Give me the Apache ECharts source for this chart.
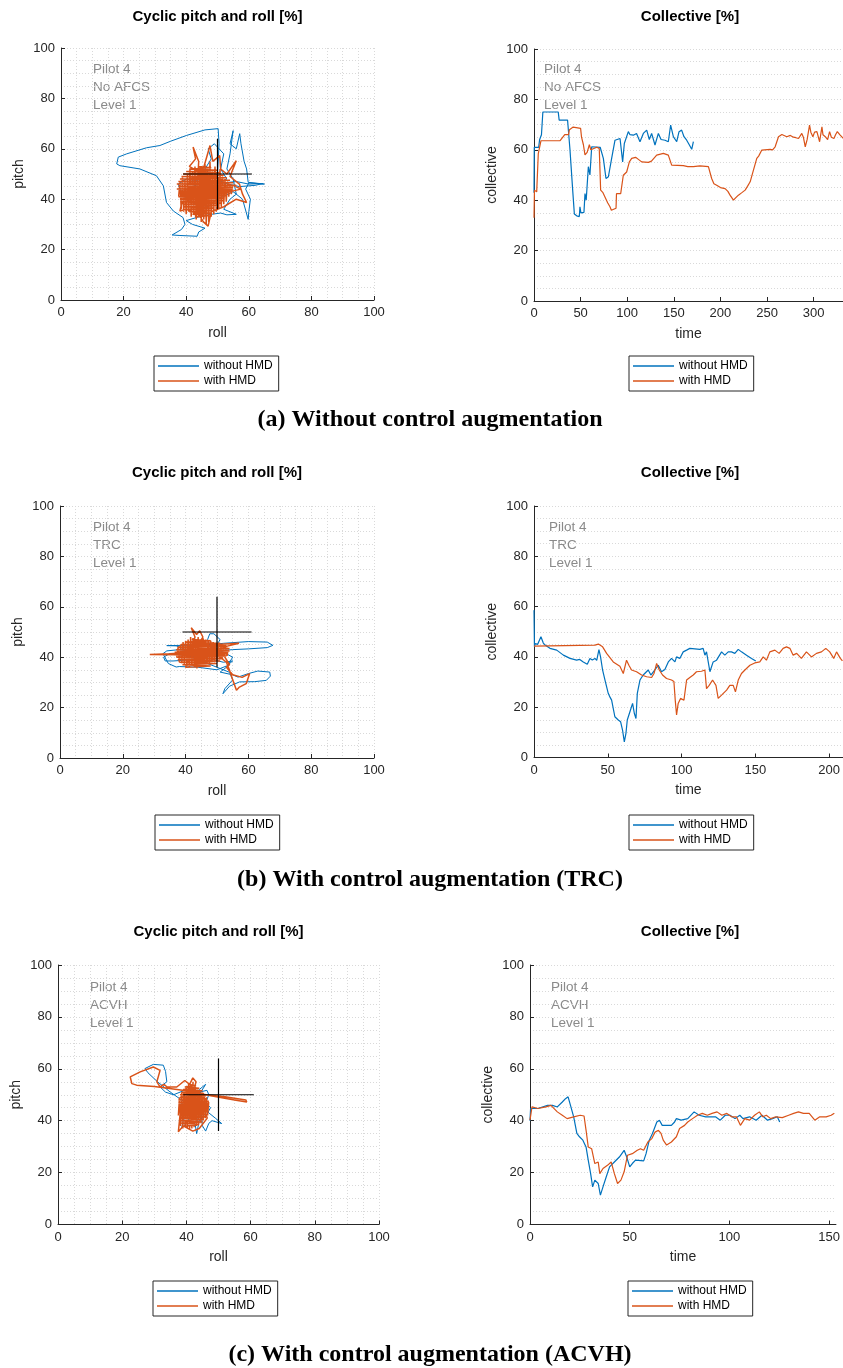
<!DOCTYPE html>
<html>
<head>
<meta charset="utf-8">
<script src="https://cdn.jsdelivr.net/npm/echarts@6/dist/echarts.min.js"></script>
<style>
  html, body { margin: 0; padding: 0; background: #fff; }
  #chart { width: 843px; height: 1368px; }
</style>
</head>
<body>
<div id="chart"></div>
<script>
// ---- series names / labels ----
const seriesNames = ['without HMD', 'with HMD'];
const annotA = ['Pilot 4', 'No AFCS', 'Level 1'];
const annotB = ['Pilot 4', 'TRC', 'Level 1'];
const annotC = ['Pilot 4', 'ACVH', 'Level 1'];
const captions = ['(a) Without control augmentation', '(b) With control augmentation (TRC)', '(c) With control augmentation (ACVH)'];
const timeTicksA = [0, 50, 100, 150, 200, 250, 300];
const timeTicksB = [0, 50, 100, 150, 200];
const timeTicksC = [0, 50, 100, 150];

// ---- collective vs time: [time, collective %] ----
const collA_noHmd = [[0,43],[0.3,61],[5,61],[6,64],[8,66],[9.5,75],[26,75],[27,71.8],[36,71.8],[38.6,60],[41.5,44],[43.3,34.5],[45.8,33.8],[48.6,33.5],[49.3,37.4],[50.3,35],[53.6,35.2],[54.7,42.6],[56,40],[58.3,53.3],[60,50],[61.9,61.2],[71,61],[74.4,56.6],[77.2,48.6],[79.8,49.3],[83.3,56.6],[86.9,63.8],[92.3,64.5],[95.1,55.2],[96.9,62.5],[101.2,67.2],[103,66],[106.6,65.8],[110,66.5],[113.7,63.2],[117.3,66.5],[120.9,67.8],[123.7,64.1],[126.2,66.5],[129.8,61.9],[133.4,66.5],[136.3,64.1],[140.6,63.8],[144.1,63.2],[146.6,69.8],[149.5,65.2],[153.1,63.2],[155.6,67.2],[158.4,67.8],[160.9,65.2],[163.8,63.8],[166.7,61.9],[169.2,60.2],[171,63.2]];
const collA_hmd = [[0,33],[0.5,44],[2.9,43.3],[4.6,58.5],[7.5,63.6],[28,63.6],[29,64],[33,66],[37,66],[38,68],[42,69],[44,68.5],[50,68.5],[51,65],[53,62],[54.7,58],[57,59],[59.4,62],[61,60],[67.4,61],[70,60.5],[71.5,44],[74,43],[76,42.6],[79,39],[81.5,37.4],[83,36],[85.1,35.8],[88,36.8],[88.5,42.6],[93,42.6],[95.8,49.9],[99.4,51.2],[102.3,55.2],[104.8,56.6],[109,57],[112,56.2],[115.5,55.2],[122.7,55],[126,55.5],[131.6,57.9],[138.8,58.6],[144.1,57.9],[147.7,53.9],[160.2,53.7],[165,53.3],[171,53.3],[173,54],[178.1,53.6],[187.1,53.3],[190.6,48.6],[193,46.5],[196,45.9],[200,45],[205,44.6],[208,43.5],[210.3,42],[214,40],[216,40.8],[219.3,42],[223,43],[226.5,44],[229,45.5],[231.9,47.3],[235.5,52],[239,56.6],[241,57.5],[244.4,59.9],[253.4,60.2],[256,60],[258.7,61.2],[262.3,65.2],[265.9,66.1],[271.2,65.2],[275,65.7],[278.4,65],[281,64.8],[283.8,64.5],[287.3,66.5],[289,65],[291,61.2],[293,64],[295.6,69.8],[297,67],[299.2,65.2],[301,67],[303.5,67.2],[306.4,63.2],[308.9,69.1],[310,66],[312.5,65.2],[315,64],[317.1,67.2],[319,65],[321.8,64.5],[323.5,66],[325.4,67.2],[328,66],[331.8,64.5]];

const collB_noHmd = [[0,58.6],[0.3,44],[0.8,45.3],[2.5,45],[4.7,48],[6.3,45.5],[8,44.5],[10.8,43.4],[15.4,42.7],[19.9,40.7],[24.4,39.4],[28.9,38.7],[31,39],[33.4,38],[36.1,37.1],[37.9,39.4],[39.5,38.8],[41.3,39.4],[42.5,38.6],[44,42.9],[45.1,40],[46.5,34.7],[48.1,30.8],[50.3,25.5],[51.5,24],[52.6,22.8],[54.8,16.2],[57.1,14.9],[58.7,14.2],[60,10.9],[61.2,6.2],[62.3,9.6],[63.2,14.9],[65,18.2],[66.8,21.5],[68,17.5],[69.1,15.5],[70,25.5],[71.8,30.8],[74,32.8],[77.4,34.8],[79.2,32.8],[81.9,34.8],[84.2,36.7],[86.4,34.1],[88.7,35],[91,38],[93.2,39.4],[95.5,38],[96.6,40],[98.8,39.4],[101.1,42],[103.4,42.7],[105.6,43.4],[109,43.2],[112.4,43],[114.6,43.4],[115.8,40.7],[116.9,42],[119.2,34.1],[121.4,38],[123.7,38.7],[127.1,42],[129.3,40.7],[131.6,42],[133.8,42],[136.1,41.4],[138.4,43],[140.6,42],[144,40.7],[147.4,39.4],[150.3,38.4]];
const collB_hmd = [[0,44.3],[1,44.7],[41.3,44.7],[43.6,45.1],[46.5,44],[49.2,41.4],[53.7,38],[58.2,36.3],[60.5,33.4],[62.7,38.7],[64.3,36.7],[66.1,34.8],[69.5,34.1],[72.9,32.8],[76.3,32.1],[79.7,31.8],[81.3,33.4],[83.1,37.4],[84.9,34.8],[87.1,32.8],[89.8,31.4],[93.2,30.8],[94.8,30.2],[95.7,22.8],[96.6,16.9],[97.7,21.5],[99.3,23.5],[101.6,22.8],[103.4,30.8],[105.6,31.8],[107.9,32.8],[110.1,34.1],[113.5,34.3],[115.8,34.8],[116.9,27.4],[118.7,28.7],[121,30.8],[123.3,28.7],[124.8,23.5],[127.1,24.8],[130.5,26.8],[132.7,28.7],[135,28.7],[136.5,26.1],[138.4,30.8],[140.6,33.4],[142.9,34.8],[146.3,36.7],[149.6,37.6],[153,38],[155.3,40],[157.5,38.7],[159.8,42],[163.2,42.7],[166.1,41.4],[168.8,43.4],[171.1,44],[173.4,43.4],[175.6,40.7],[178,41.4],[181.2,39.4],[184.6,42],[188,40],[191.4,41.4],[194.8,42],[197.7,43.4],[200.4,42],[203.1,39.4],[205,42],[207.6,39.4],[209,38.4]];

const collC_noHmd = [[0,40],[0.3,44.7],[3.9,44.7],[8.8,45.9],[11.3,45.9],[13.7,45.3],[16.2,47.2],[17.8,48.5],[19.1,49.2],[20.3,45.9],[21.9,41.5],[23.5,35.1],[24.8,33.8],[26.5,32.5],[28.1,29.9],[29.2,24.8],[30.4,19.6],[31.4,14.5],[32.5,17.1],[34.2,15.8],[35.3,11.3],[36.6,14.5],[38.2,18.3],[39.9,22.2],[42.3,24.1],[44.8,26],[47.2,28.6],[48.5,26],[50,22.2],[51.3,23.5],[52.9,24.8],[57,24.5],[58.2,27.3],[59.8,32.5],[61.4,35.1],[63.6,39.5],[64.9,40.2],[66.3,38.2],[70.9,38.2],[72.5,39.5],[73.4,40.8],[75.8,40.2],[79.1,40.8],[82.3,43.4],[84.8,42.1],[88.1,41.5],[90.5,41.5],[93,41.5],[95.4,40.2],[97.9,42.1],[100.3,42.1],[102.8,40.8],[105.2,42.1],[106.8,40.8],[110.1,41.5],[113.4,40.2],[116.3,42.1],[119.1,40.2],[121.6,40.8],[124,41.5],[125.2,39.5]];
const collC_hmd = [[0,40.2],[1,45.3],[4,44.7],[8,45.3],[10.5,45.9],[13.7,43.4],[16.2,42.1],[18.6,40.8],[21.9,41.5],[25.2,42.1],[27.1,41.8],[28.1,36.4],[29.2,29.9],[30.9,29.2],[32.5,23.5],[34.2,24.1],[35,19.6],[36.6,21.6],[39,22.9],[40.7,24.1],[42.3,19.6],[43.9,15.8],[45.6,17.1],[47.2,20.3],[48.9,26.7],[51.3,27.3],[53.8,28.6],[55.4,29.2],[57,28.6],[59.1,31.8],[61.1,33.1],[62.7,35.6],[64.4,36.3],[65.7,35.1],[66.8,32.5],[68.5,30.6],[70.9,31.8],[73.4,33.8],[75,37],[77.5,38.2],[79.1,39.5],[81.5,40.8],[84,42.1],[86.4,42.8],[88.9,42.1],[91.3,42.8],[93.8,43.4],[96.2,42.1],[98.7,42.8],[101.1,41.5],[103.5,41.5],[105.5,38.2],[107.7,40.8],[110.1,40.2],[112.6,42.1],[115,43.4],[116.7,41.5],[118.5,42.1],[120.7,40.8],[123.2,41.5],[126.5,41.2],[129.7,42.1],[132.2,42.8],[134.6,43.4],[137.1,42.8],[140,42.8],[142.8,40.2],[145.3,41.5],[148.5,41.5],[151,42.1],[152.6,42.9]];

// ---- cyclic stick traces: [roll %, pitch %] ----
const cycA_noHmd = [[40,44],[44,46],[48,49],[50,50],[50.5,62],[50.2,68],[46,67.5],[40.1,65.3],[35,63],[31.6,61.3],[27.3,60.4],[21,58],[18.3,56.7],[17.8,54],[18.8,53.3],[25.2,52],[30.5,49.3],[32.7,45.3],[33.7,38.7],[35.9,35.3],[39,32.7],[39.6,30],[38.5,28],[35.5,25.8],[38,25.6],[43.5,25.3],[44,27],[46,28.5],[42,30],[40,31.5],[44,33],[48,34],[51,34.5],[53,33.8],[56,34],[52,36],[54,40],[56,42],[55,48],[53,52],[54,58],[55,67.2],[54,62],[56,60],[57.1,66],[57.5,62],[58.5,55],[59.3,52],[59.8,46.7],[65,46],[60,46.5],[59,44],[60.5,40],[60,35],[59.8,32],[58,40],[55,43],[50,40],[47,37],[43,38],[40,40],[38,44],[37.5,46],[40,48],[45,47],[52,46.5],[56,47],[60,46],[64.5,46.2],[62,45.5],[57,45],[50,47],[46,52],[48,56],[47,60],[49,62],[52,58],[51,52],[53,48],[48,45],[44,42],[40,42],[38,43.5]];
const cycA_hmd = [
  [37.6,41],[38,47],[38.4,36],[38.8,49],[39.2,35],[39.6,48],[40,34],[40.4,50],[40.8,35],[41.2,52],[41.6,33],[42,51],[42.4,34],[42.8,53],[43.2,32],[43.6,50],[44,33],[44.4,52],[44.8,31],[45.2,51],[45.6,32],[46,54],[46.4,30],[46.8,52],[47.2,31],[47.6,55],[48,33],[48.4,51],[48.8,34],[49.2,53],[49.6,35],[50,50],[50.4,36],[50.8,52],[51.2,37],[51.6,49],[52,38],[52.4,48],[52.8,39],[53.2,47],[53.6,41],[54,46],[54.4,42],[54.8,45],
  [44,53],[48,52.5],[41,52],[50,51.5],[40,51],[51,50.5],[39,50],[52,49.5],[38.5,49],[53,48.5],[38,48],[54,47.5],[37.5,47],[55,46.5],[37,46],[56,45.5],[37.5,45],[55,44.5],[37,44],[54,43.5],[37.5,43],[53,42.5],[38,42],[53,41.5],[37.5,41],[52,40.5],[38,40],[52,39.5],[38.5,39],[51,38.5],[39,38],[50,37.5],[39.5,37],[49,36.5],[40,36],[48,35.5],[41,35],[48,34.5],[42,34],[47,33.5],[43,33],
  [44,55],[42.2,60.7],[43,56],[41,53],[45,50],[47.6,61.3],[48.5,55],[50.7,57.3],[51,52],[53,50],[56,55.3],[54,49],[57,46],[58,42],[59.3,38.7],[56,40],[52,37],[48,35],[47,29.3],[45.5,31],[44,34],[40,36],[38,35.3],[38.5,38],[42,41],[46,44],[50,45],[55,45.5],[57.5,44],[54,43],[49,42],[44,40],[40,44]];

const cycB_noHmd = [[42,42],[37,44.5],[34,44.6],[46,44.8],[52,45.5],[60,46.2],[66,46],[67.8,44.7],[66,43.8],[60,43.3],[55,43],[50,42.5],[47,41],[42,39],[36,38.5],[33.5,38.5],[33,40],[35,41.5],[41,40.5],[46,40],[52,38],[55,38.5],[53,36.5],[50,35],[44,36],[38,36.3],[37,36.1],[34.5,37.5],[33.9,38.1],[32.8,41.4],[34,42.5],[38,43],[45,42],[49,43],[51,47],[49,49.3],[47.7,49.3],[47,47],[48,44],[52,42],[55,40],[53,36],[51,34.1],[55,33],[56.7,32.1],[60,33.5],[63,34.5],[66.8,34.1],[67,32.5],[65.7,30.8],[62,30.3],[57.2,30.2],[54,28.5],[51.9,25.5],[52.5,27.5],[55,31],[54,34],[50,36],[46,38],[42,40],[39,42],[44,43]];
const cycB_hmd = [
  [37.2,40],[37.6,44],[38,38],[38.4,45],[38.8,37.5],[39.2,46],[39.6,37],[40,46.5],[40.4,36.5],[40.8,47],[41.2,36],[41.6,48],[42,36.5],[42.4,47.5],[42.8,36],[43.2,47],[43.6,35.5],[44,48],[44.4,36],[44.8,47],[45.2,36.5],[45.6,47.5],[46,37],[46.4,47],[46.8,37],[47.2,46.5],[47.6,37.5],[48,46.5],[48.4,38],[48.8,46],[49.2,38],[49.6,45.5],[50,38.5],[50.4,45.5],[50.8,39],[51.2,45],[51.6,39.5],[52,44.5],[52.4,40],[52.8,44],[53.2,40.5],[53.6,43.5],
  [42,47],[48,46.5],[40,46],[51,45.5],[38.5,45],[53,44.5],[37.5,44],[54,43.5],[37,43],[54,42.5],[36.5,42],[53,41.5],[36,41],[53,40.5],[37,40],[52,39.5],[37.5,39],[51,38.5],[38,38],[50,37.5],[39,37],[48,36.5],[40,36],
  [43,48],[41.8,51.7],[43.5,49],[44.5,50.5],[45.5,48],[44,45],[38,41],[28.6,41.1],[35,41.4],[42,42],[50,41],[53,38],[54,34.8],[55,31],[56.2,26.9],[57,28],[59.3,29.5],[60.4,33.5],[58,32],[55,33],[53,36],[54,37],[52,41],[47,42],[50,45],[57,45.5],[52,44]];

const cycC_noHmd = [[42,46],[38.6,47.9],[35,51],[31,55],[28,58.5],[27.1,60.1],[29.7,61.7],[32.8,61.4],[33.5,59],[33.9,55],[31.8,53],[33.5,51],[36,50],[40,52],[44,51],[46.4,51.7],[47,50],[46,47],[47.5,45],[46.5,42.7],[44,40],[43.2,35],[42.8,38],[44.5,44],[45,38],[46,36],[47,39],[48,40],[51,38.9],[49,41],[47,43],[44,47],[41,44],[39,40],[38.5,37],[40,39],[41.5,42],[43,45],[45,48],[44,52],[46,54],[44.5,51],[41,49],[38,46]];
const cycC_hmd = [
  [37.5,42],[37.85,49],[38.2,38],[38.55,51],[38.9,37],[39.25,52],[39.6,38],[39.95,53],[40.3,37],[40.65,54],[41,36.5],[41.35,53],[41.7,37],[42.05,55],[42.4,37.5],[42.75,54],[43.1,38],[43.45,52],[43.8,38.5],[44.15,51.5],[44.5,39],[44.85,51],[45.2,40],[45.55,50],[45.9,41],[46.25,49],[46.6,42],[46.95,47],
  [41,54],[43,53.5],[39.5,53],[44,52.5],[39,52],[45,51.5],[38.5,51],[45.5,50.5],[38,50],[46,49.5],[38,49],[46.5,48.5],[37.5,48],[47,47.5],[37.5,47],[47,46.5],[37.5,46],[47,45.5],[37.5,45],[46.5,44.5],[37.5,44],[46.5,43.5],[38,43],[46,42.5],[38,42],[46,41.5],[38,41],[45.5,40.5],[38.5,40],[45,39.5],[38.5,39],[44,38.5],[39.5,38],
  [43,55],[42,56.5],[41,54],[39.5,55.5],[37,53],[34,53],[33,54],[31.8,53],[30.8,55],[31.8,59.4],[29.7,60.7],[25.6,58.8],[22.5,56.9],[23,54.3],[24.5,53.7],[30,53.2],[40,51.5],[48,49.5],[55,48],[58.8,47.2],[58.5,48],[52,49.2],[46,50],[41,47],[38,42],[37.5,35.7],[39,38],[42,36],[44,37],[46.5,41],[45,46],[42,44],[40,43]];

// trim reference cross (roll 50 / pitch 50)
const crossH = [[39,50],[61,50]];
const crossV = [[50,36],[50,64]];

// ---- styling ----
const BLUE = '#0072BD', ORANGE = '#D95319';
const FONT = 'Liberation Sans';
const AX = '#262626';
const GRIDC = '#d9d9d9';

const panels = [
  { left: 61, top: 48, width: 313, height: 252, cyc: true },
  { left: 534, top: 49, width: 309, height: 252, xmax: 331.5, ticks: timeTicksA },
  { left: 60, top: 506, width: 314, height: 252, cyc: true },
  { left: 534, top: 506, width: 309, height: 251.5, xmax: 209.2, ticks: timeTicksB },
  { left: 58, top: 965, width: 321, height: 259.5, cyc: true },
  { left: 530, top: 965, width: 313, height: 259.5, xmax: 153.4, ticks: timeTicksC }
];

const grids = [], xAxes = [], yAxes = [];
const dotted = { color: GRIDC, width: 1, type: [1, 2] };
panels.forEach((p) => {
  grids.push({ left: p.left, top: p.top, width: p.width, height: p.height, containLabel: false });
  const gi = grids.length - 1;
  const step = p.cyc ? 20 : 50;
  const xa = {
    gridIndex: gi, type: 'value', min: 0, max: p.cyc ? 100 : p.xmax, interval: step,
    name: p.cyc ? 'roll' : 'time', nameLocation: 'middle', nameGap: 26,
    nameTextStyle: { fontFamily: FONT, fontSize: 14, color: AX },
    axisLine: { show: true, lineStyle: { color: AX, width: 1 } },
    axisTick: { show: true, inside: true, length: 4, lineStyle: { color: AX } },
    axisLabel: { fontFamily: FONT, fontSize: 13, color: AX, margin: 6,
      formatter: (v) => (Math.abs(v % step) < 1e-6 ? String(v) : '') },
    splitLine: { show: !!p.cyc, lineStyle: dotted },
    minorTick: { show: false, splitNumber: 4 },
    minorSplitLine: { show: !!p.cyc, lineStyle: dotted }
  };
  if (p.ticks) {
    xa.axisTick.customValues = p.ticks;
    xa.axisLabel.customValues = p.ticks;
  }
  xAxes.push(xa);
  yAxes.push({
    gridIndex: gi, type: 'value', min: 0, max: 100, interval: 20,
    name: p.cyc ? 'pitch' : 'collective', nameLocation: 'middle', nameGap: 35, nameRotate: 90,
    nameTextStyle: { fontFamily: FONT, fontSize: 14, color: AX },
    axisLine: { show: true, lineStyle: { color: AX, width: 1 } },
    axisTick: { show: true, inside: true, length: 4, lineStyle: { color: AX } },
    axisLabel: { fontFamily: FONT, fontSize: 13, color: AX, margin: 6 },
    splitLine: { show: true, lineStyle: dotted },
    minorTick: { show: false, splitNumber: 4 },
    minorSplitLine: { show: true, lineStyle: dotted }
  });
});

function line(name, data, gi, color, width) {
  return {
    name: name, type: 'line', data: data, xAxisIndex: gi, yAxisIndex: gi,
    showSymbol: false, symbol: 'none', silent: true, animation: false, clip: true,
    lineStyle: { color: color, width: width }, itemStyle: { color: color }
  };
}

const series = [];
const cycSets = [[cycA_noHmd, cycA_hmd], [cycB_noHmd, cycB_hmd], [cycC_noHmd, cycC_hmd]];
const collSets = [[collA_noHmd, collA_hmd], [collB_noHmd, collB_hmd], [collC_noHmd, collC_hmd]];
for (let r = 0; r < 3; r++) {
  const gc = r * 2, gt = r * 2 + 1;
  series.push(line(seriesNames[0], cycSets[r][0], gc, BLUE, 1));
  series.push(line(seriesNames[1], cycSets[r][1], gc, ORANGE, 1.5));
  series.push(line('trim', crossH, gc, '#000', 1.2));
  series.push(line('trim', crossV, gc, '#000', 1.2));
  series.push(line(seriesNames[0], collSets[r][0], gt, BLUE, 1.2));
  series.push(line(seriesNames[1], collSets[r][1], gt, ORANGE, 1.2));
}

// legends under every panel
const legendPos = [[154, 356], [629, 356], [155, 815], [629, 815], [153, 1281], [628, 1281]];
const legends = legendPos.map(([l, t]) => ({
  data: seriesNames, left: l, top: t, orient: 'vertical', selectedMode: false,
  icon: 'rect', itemWidth: 41, itemHeight: 1.5, itemGap: 3,
  padding: [4, 6, 4, 4], backgroundColor: '#fff', borderColor: AX, borderWidth: 1,
  textStyle: { fontFamily: FONT, fontSize: 12, color: '#000' }
}));

// titles, annotations and captions
const graphics = [];
function txt(x, y, s, font, fill, align) {
  graphics.push({ type: 'text', x: x, y: y, silent: true,
    style: { text: s, font: font, fill: fill, textAlign: align || 'center', textVerticalAlign: 'middle' } });
}
const titleY = [17, 473, 932];
const capY = [420, 880, 1355];
const annots = [annotA, annotB, annotC];
const annotY0 = [69, 527, 987];
const annotXL = [93, 93, 90];
const annotXR = [544, 549, 551];
for (let r = 0; r < 3; r++) {
  const pl = panels[r * 2];
  txt(pl.left + pl.width / 2, titleY[r], 'Cyclic pitch and roll [%]', 'bold 15px "' + FONT + '"', '#000');
  txt(690, titleY[r], 'Collective [%]', 'bold 15px "' + FONT + '"', '#000');
  annots[r].forEach((s, i) => {
    txt(annotXL[r], annotY0[r] + i * 18, s, '13.5px "' + FONT + '"', '#8a8a8a', 'left');
    txt(annotXR[r], annotY0[r] + i * 18, s, '13.5px "' + FONT + '"', '#8a8a8a', 'left');
  });
  txt(430, capY[r], captions[r], 'bold 24px "Liberation Serif"', '#000');
}

const chart = echarts.init(document.getElementById('chart'), null, { renderer: 'canvas' });
chart.setOption({
  backgroundColor: '#fff',
  animation: false,
  grid: grids, xAxis: xAxes, yAxis: yAxes,
  legend: legends,
  series: series,
  graphic: graphics
});
</script>
</body>
</html>
